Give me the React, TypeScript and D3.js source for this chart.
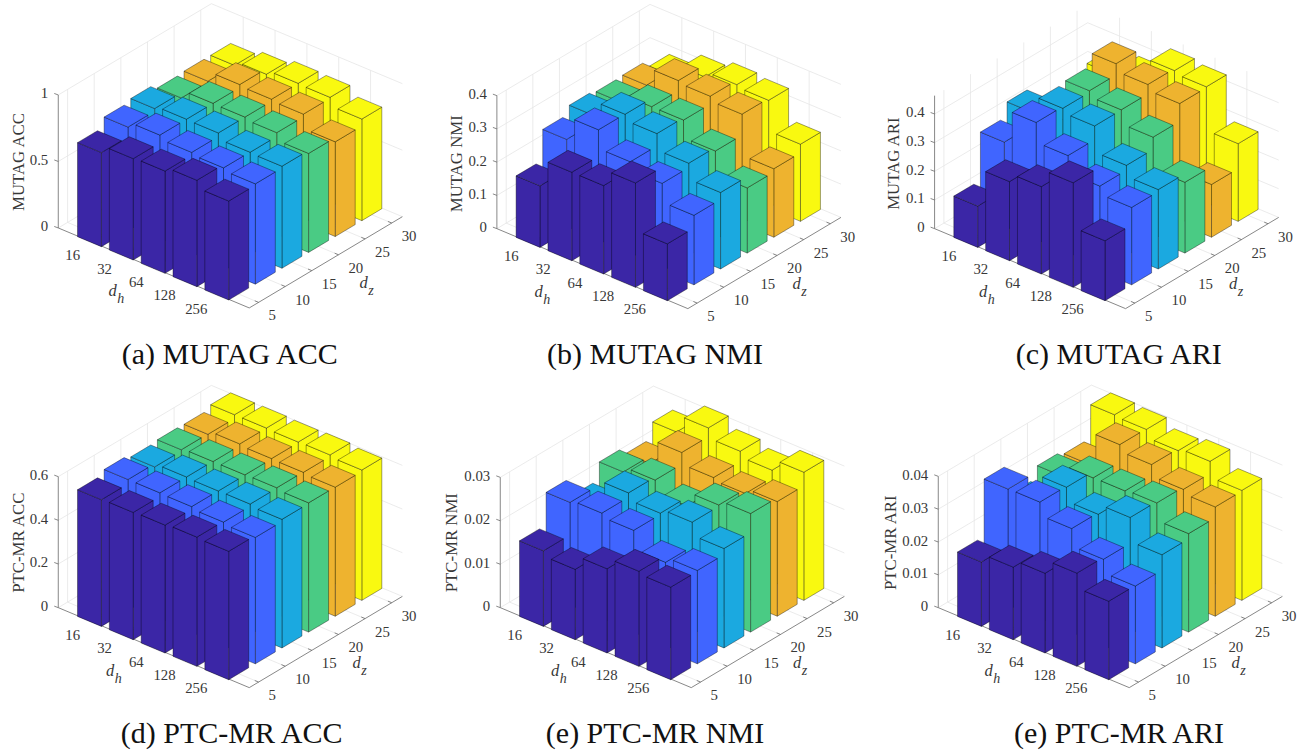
import * as d3 from "d3";

const dhLabels = ["16", "32", "64", "128", "256"];
const dzLabels = ["5", "10", "15", "20", "25", "30"];
const barColors = ["#3b26a6", "#4065ff", "#1ba9e0", "#4acb84", "#eeb32f", "#f9f910"];

// rows are dz = 5..30, columns are dh = 16..256
const mutagAcc = [
	[0.707, 0.762, 0.769, 0.8, 0.744],
	[0.78, 0.82, 0.79, 0.774, 0.754],
	[0.8, 0.82, 0.817, 0.772, 0.767],
	[0.76, 0.82, 0.817, 0.8, 0.744],
	[0.767, 0.842, 0.832, 0.82, 0.712],
	[0.767, 0.8, 0.832, 0.827, 0.764],
];
const mutagNmi = [
	[0.185, 0.266, 0.266, 0.314, 0.171],
	[0.277, 0.346, 0.29, 0.265, 0.209],
	[0.302, 0.345, 0.327, 0.278, 0.23],
	[0.295, 0.32, 0.32, 0.267, 0.196],
	[0.297, 0.351, 0.344, 0.33, 0.206],
	[0.276, 0.314, 0.331, 0.324, 0.232],
];
const mutagAri = [
	[0.144, 0.276, 0.305, 0.365, 0.209],
	[0.312, 0.427, 0.358, 0.298, 0.27],
	[0.362, 0.421, 0.406, 0.315, 0.277],
	[0.27, 0.427, 0.407, 0.358, 0.247],
	[0.25, 0.466, 0.44, 0.42, 0.184],
	[0.33, 0.36, 0.433, 0.423, 0.271],
];
const ptcAcc = [
	[0.58, 0.583, 0.586, 0.592, 0.588],
	[0.6, 0.6, 0.598, 0.588, 0.579],
	[0.585, 0.6, 0.597, 0.598, 0.589],
	[0.591, 0.598, 0.598, 0.6, 0.592],
	[0.589, 0.606, 0.6, 0.598, 0.591],
	[0.606, 0.606, 0.603, 0.605, 0.597],
];
const ptcNmi = [
	[0.0174, 0.0162, 0.0194, 0.0219, 0.0213],
	[0.0249, 0.0255, 0.0246, 0.0203, 0.0215],
	[0.0206, 0.0265, 0.0249, 0.0259, 0.0229],
	[0.0246, 0.0258, 0.0229, 0.0262, 0.0273],
	[0.0229, 0.0285, 0.0258, 0.0252, 0.0264],
	[0.0265, 0.0305, 0.0282, 0.0269, 0.0295],
];
const ptcAri = [
	[0.0196, 0.0221, 0.0243, 0.0284, 0.0239],
	[0.037, 0.0371, 0.0331, 0.0278, 0.0237],
	[0.0278, 0.0368, 0.0326, 0.0357, 0.0284],
	[0.0314, 0.0348, 0.0349, 0.0353, 0.03],
	[0.0302, 0.0401, 0.0381, 0.0346, 0.0333],
	[0.0403, 0.0399, 0.0375, 0.0383, 0.0335],
];

const panels = [
	{ values: mutagAcc, yLabel: "MUTAG ACC", caption: "(a) MUTAG ACC", ticks: [0, 0.5, 1], tickText: ["0", "0.5", "1"], zMax: 1, boxH: 133, fx: 228.7, fy: 300, yLabelX: 23.5, dhX: 108.5, dzX: 359.5, capX: 229.7 },
	{ values: mutagNmi, yLabel: "MUTAG NMI", caption: "(b) MUTAG NMI", ticks: [0, 0.1, 0.2, 0.3, 0.4], tickText: ["0", "0.1", "0.2", "0.3", "0.4"], zMax: 0.4, boxH: 133, fx: 667.3, fy: 300.7, yLabelX: 461.7, dhX: 534.5, dzX: 792.5, capX: 655 },
	{ values: mutagAri, yLabel: "MUTAG ARI", caption: "(c) MUTAG ARI", ticks: [0, 0.1, 0.2, 0.3, 0.4], tickText: ["0", "0.1", "0.2", "0.3", "0.4"], zMax: 0.464, boxH: 133, fx: 1105, fy: 300.7, yLabelX: 899.3, dhX: 979, dzX: 1229, capX: 1118.7 },
	{ values: ptcAcc, yLabel: "PTC-MR ACC", caption: "(d) PTC-MR ACC", ticks: [0, 0.2, 0.4, 0.6], tickText: ["0", "0.2", "0.4", "0.6"], zMax: 0.6, boxH: 131, fx: 228.7, fy: 679.7, yLabelX: 23.5, dhX: 106, dzX: 352.5, capX: 231.7 },
	{ values: ptcNmi, yLabel: "PTC-MR NMI", caption: "(e) PTC-MR NMI", ticks: [0, 0.01, 0.02, 0.03], tickText: ["0", "0.01", "0.02", "0.03"], zMax: 0.03, boxH: 130.3, fx: 670.7, fy: 679.7, yLabelX: 457.3, dhX: 551, dzX: 793, capX: 655 },
	{ values: ptcAri, yLabel: "PTC-MR ARI", caption: "(e) PTC-MR ARI", ticks: [0, 0.01, 0.02, 0.03, 0.04], tickText: ["0", "0.01", "0.02", "0.03", "0.04"], zMax: 0.04, boxH: 131.3, fx: 1108.7, fy: 679.7, yLabelX: 895.7, dhX: 984.5, dzX: 1231.5, capX: 1119 },
];

// view projection: one step along dh and one step along dz, in pixels
const dhStep = [31.83, 13.33];
const dzStep = [26.63, -15.87];
const barHalf = 0.375;
const dhRange = [-1, 5];
const dzRange = [-0.35, 5.4];

const font = "'Liberation Serif', 'Times New Roman', serif";
const textColor = "#383838";
const axisColor = "#6a6a6a";
const gridColor = "#e6e6e6";

const polyline = d3
	.line<number[]>()
	.x((d) => d[0])
	.y((d) => d[1]);

function Panel({ panel }: { panel: (typeof panels)[number] }) {
	const z = d3.scaleLinear().domain([0, panel.zMax]).range([0, -panel.boxH]);
	const dhIndex = d3.scalePoint<string>().domain(dhLabels).range([0, 4]);
	const dzIndex = d3.scalePoint<string>().domain(dzLabels).range([0, 5]);

	// u, v are positions in bar steps, value is in data units
	const cx = panel.fx - barHalf * dhStep[0] + barHalf * dzStep[0];
	const cy = panel.fy - barHalf * dhStep[1] + barHalf * dzStep[1];
	const project = (u: number, v: number, value = 0) => [
		cx + (u - 4) * dhStep[0] + v * dzStep[0],
		cy + (u - 4) * dhStep[1] + v * dzStep[1] + z(value),
	];

	const [u0, u1] = dhRange;
	const [v0, v1] = dzRange;
	const grid: number[][][] = [];
	dhLabels.forEach((d) => {
		const u = dhIndex(d)!;
		grid.push([project(u, v0), project(u, v1), project(u, v1, panel.zMax)]);
	});
	dzLabels.forEach((d) => {
		const v = dzIndex(d)!;
		grid.push([project(u0, v, panel.zMax), project(u0, v), project(u1, v)]);
	});
	panel.ticks.forEach((t) => {
		grid.push([project(u0, v0, t), project(u0, v1, t), project(u1, v1, t)]);
	});

	const bars: { key: string; color: string; faces: number[][][] }[] = [];
	for (let row = dzLabels.length - 1; row >= 0; row--) {
		dhLabels.forEach((_, col) => {
			const value = panel.values[row][col];
			const h = barHalf;
			bars.push({
				key: `${row}-${col}`,
				color: barColors[row],
				faces: [
					[project(col + h, row - h), project(col + h, row + h), project(col + h, row + h, value), project(col + h, row - h, value)],
					[project(col - h, row - h), project(col + h, row - h), project(col + h, row - h, value), project(col - h, row - h, value)],
					[project(col - h, row - h, value), project(col + h, row - h, value), project(col + h, row + h, value), project(col - h, row + h, value)],
				],
			});
		});
	}

	const left = project(u0, v0);
	const front = project(u1, v0);
	const right = project(u1, v1);
	const labelY = panel.fy - 300;

	return (
		<g>
			{grid.map((pts, i) => (
				<path key={i} d={polyline(pts) ?? ""} fill="none" stroke={gridColor} strokeWidth={0.8} />
			))}
			<path d={polyline([[left[0], left[1] + z(panel.zMax)], left, front, right]) ?? ""} fill="none" stroke={axisColor} strokeWidth={0.8} />
			{panel.ticks.map((t, i) => {
				const p = project(u0, v0, t);
				return (
					<g key={t}>
						<line x1={p[0]} y1={p[1]} x2={p[0] - 4} y2={p[1] - 1.5} stroke={axisColor} strokeWidth={0.8} />
						<text x={p[0] - 10} y={p[1] + 3.5} textAnchor="end" fontSize={14.8} fontFamily={font} fill={textColor}>
							{panel.tickText[i]}
						</text>
					</g>
				);
			})}
			{dhLabels.map((d) => {
				const p = project(dhIndex(d)!, v0);
				return (
					<g key={d}>
						<line x1={p[0]} y1={p[1]} x2={p[0] + dzStep[0] * 0.12} y2={p[1] + dzStep[1] * 0.12} stroke={axisColor} strokeWidth={0.8} />
						<text x={p[0] - 10} y={p[1] + 19} textAnchor="end" fontSize={14.8} fontFamily={font} fill={textColor}>
							{d}
						</text>
					</g>
				);
			})}
			{dzLabels.map((d) => {
				const p = project(u1, dzIndex(d)!);
				return (
					<g key={d}>
						<line x1={p[0]} y1={p[1]} x2={p[0] - dhStep[0] * 0.12} y2={p[1] - dhStep[1] * 0.12} stroke={axisColor} strokeWidth={0.8} />
						<text x={p[0] + 10} y={p[1] + 18} fontSize={14.8} fontFamily={font} fill={textColor}>
							{d}
						</text>
					</g>
				);
			})}
			{bars.map((bar) => (
				<g key={bar.key}>
					{bar.faces.map((pts, i) => (
						<path
							key={i}
							d={(polyline(pts) ?? "") + "Z"}
							fill={bar.color}
							stroke="#000"
							strokeOpacity={0.62}
							strokeWidth={0.6}
							strokeLinejoin="round"
						/>
					))}
				</g>
			))}
			<text
				transform={`translate(${panel.yLabelX},${162 + labelY + (labelY > 0 ? 1 : 0)}) rotate(-90)`}
				textAnchor="middle"
				fontSize={16.8}
				fontFamily={font}
				fill={textColor}
			>
				{panel.yLabel}
			</text>
			<text x={panel.dhX} y={296 + labelY} fontSize={16.5} fontFamily={font} fontStyle="italic" fill={textColor}>
				d
				<tspan fontSize={14} dx={0.5} dy={7}>
					h
				</tspan>
			</text>
			<text x={panel.dzX} y={288 + labelY} fontSize={16.5} fontFamily={font} fontStyle="italic" fill={textColor}>
				d
				<tspan fontSize={14} dx={0.5} dy={7}>
					z
				</tspan>
			</text>
			<text x={panel.capX} y={363.5 + labelY} textAnchor="middle" fontSize={30} fontFamily={font} fill="#111">
				{panel.caption}
			</text>
		</g>
	);
}

export default function App() {
	return (
		<svg width={1310} height={756} style={{ position: "absolute", left: 0, top: 0, background: "#fff" }}>
			{panels.map((panel) => (
				<Panel key={panel.caption} panel={panel} />
			))}
		</svg>
	);
}
